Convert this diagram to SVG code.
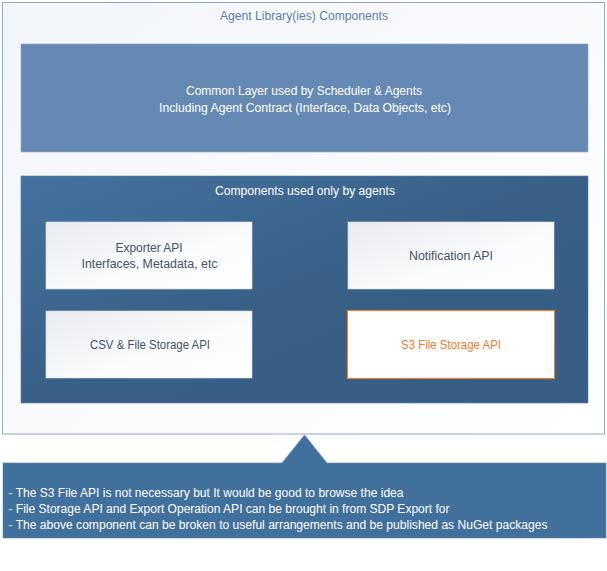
<svg xmlns="http://www.w3.org/2000/svg" width="607" height="571" viewBox="0 0 607 571">
<defs>
<linearGradient id="gOuter" x1="0" y1="0" x2="1" y2="1"><stop offset="0" stop-color="#f2f5fa"/><stop offset="1" stop-color="#ffffff"/></linearGradient>
<linearGradient id="gComp" x1="0" y1="0" x2="1" y2="1"><stop offset="0" stop-color="#44729f"/><stop offset="0.5" stop-color="#386087"/><stop offset="1" stop-color="#365e84"/></linearGradient>
<linearGradient id="gWhite" x1="0" y1="0" x2="1" y2="1"><stop offset="0" stop-color="#e9ebf0"/><stop offset="0.6" stop-color="#fafbfc"/><stop offset="1" stop-color="#ffffff"/></linearGradient>
<style>
text{font-family:"Liberation Sans",Arial,sans-serif;font-size:12px;text-anchor:middle}
.w{fill:#ffffff}
.d{fill:#44546a}
.o{fill:#ed7d31}
.box{fill:url(#gWhite);stroke:#d9dde6;stroke-width:0.6}
</style>
</defs>
<g id="outer">
<rect x="2.5" y="2.5" width="602" height="431.5" fill="url(#gOuter)" stroke="#8eaad6" stroke-width="1"/>
<text x="304" y="19.5" fill="#5d7fb0" textLength="168" lengthAdjust="spacingAndGlyphs">Agent Library(ies) Components</text>
</g>
<g id="common">
<rect x="21" y="44" width="567" height="108" fill="#6589b2" stroke="#8ba6c8" stroke-width="0.6"/>
<text class="w" x="304" y="94.5" textLength="236" lengthAdjust="spacingAndGlyphs">Common Layer used by Scheduler &amp; Agents</text>
<text class="w" x="305" y="111.5" textLength="292" lengthAdjust="spacingAndGlyphs">Including Agent Contract (Interface, Data Objects, etc)</text>
</g>
<g id="agents">
<rect x="21" y="176" width="567" height="227" fill="url(#gComp)" stroke="#5b7fa6" stroke-width="0.6"/>
<text class="w" x="305" y="194.5" textLength="180" lengthAdjust="spacingAndGlyphs">Components used only by agents</text>
</g>
<g id="exporter">
<rect class="box" x="46" y="222" width="206" height="67"/>
<text class="d" x="149" y="251.5" textLength="67" lengthAdjust="spacingAndGlyphs">Exporter API</text>
<text class="d" x="149.5" y="267.5" textLength="136" lengthAdjust="spacingAndGlyphs">Interfaces, Metadata, etc</text>
</g>
<g id="notification">
<rect class="box" x="348" y="222" width="206" height="67"/>
<text class="d" x="451" y="259.5" textLength="84" lengthAdjust="spacingAndGlyphs">Notification API</text>
</g>
<g id="csv">
<rect class="box" x="46" y="311" width="206" height="67"/>
<text class="d" x="150" y="348.5" textLength="120" lengthAdjust="spacingAndGlyphs">CSV &amp; File Storage API</text>
</g>
<g id="s3">
<rect x="347.5" y="310.5" width="207" height="68" fill="#ffffff" stroke="#ed7d31" stroke-width="1.2"/>
<text class="o" x="451" y="348.5" textLength="100" lengthAdjust="spacingAndGlyphs">S3 File Storage API</text>
</g>
<g id="connectors"></g>
<g id="callout">
<path d="M3 463 H282 L304.5 435 L327 463 H606 V538 H3 Z" fill="#41709c" stroke="#5a86b0" stroke-width="0.6"/>
<text class="w" x="8.5" y="496.5" style="text-anchor:start" textLength="395" lengthAdjust="spacingAndGlyphs">- The S3 File API is not necessary but It would be good to browse the idea</text>
<text class="w" x="8.5" y="512.5" style="text-anchor:start" textLength="441" lengthAdjust="spacingAndGlyphs">- File Storage API and Export Operation API can be brought in from SDP Export for</text>
<text class="w" x="8.5" y="528.5" style="text-anchor:start" textLength="539" lengthAdjust="spacingAndGlyphs">- The above component can be broken to useful arrangements and be published as NuGet packages</text>
</g>
</svg>
